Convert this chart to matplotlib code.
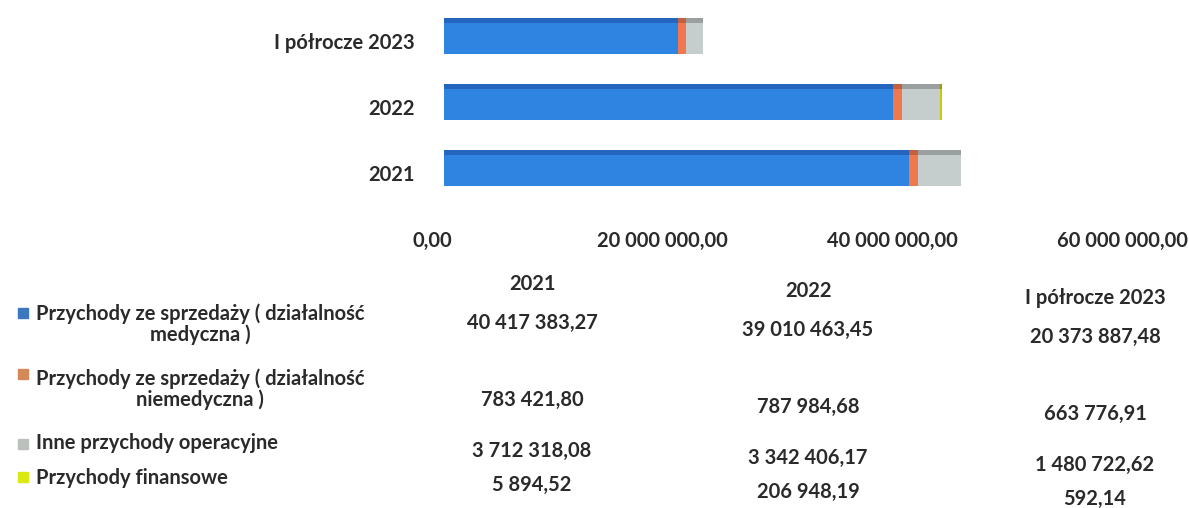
import matplotlib
matplotlib.use("Agg")
import matplotlib.pyplot as plt
import matplotlib.transforms as mtransforms
from matplotlib.ticker import FuncFormatter, MultipleLocator
from matplotlib.patches import Rectangle
import numpy as np

plt.rcParams["font.family"] = ["Lato", "DejaVu Sans"]

# Revenue data (PLN)
periods = ["2021", "2022", "I półrocze 2023"]
series_names = [
    "Przychody ze sprzedaży ( działalność\nmedyczna )",
    "Przychody ze sprzedaży ( działalność\nniemedyczna )",
    "Inne przychody operacyjne",
    "Przychody finansowe",
]
medical_sales = [40417383.27, 39010463.45, 20373887.48]
nonmedical_sales = [783421.80, 787984.68, 663776.91]
other_operating = [3712318.08, 3342406.17, 1480722.62]
financial = [5894.52, 206948.19, 592.14]

series_values = [medical_sales, nonmedical_sales, other_operating, financial]
face_colors = ["#2f84e2", "#f0784e", "#c5cdcd", "#c9c90a"]
top_colors = ["#2466bd", "#c4603f", "#9aa0a0", "#9a9a12"]
legend_colors = ["#3c78c0", "#d48a58", "#bcc0bc", "#d8ea10"]
text_color = "#2a2a2a"
fsize = 14.5
fweight = "bold"

W, H = 1189, 508
fig = plt.figure(figsize=(W / 100, H / 100), dpi=100)


def fx(px):
    return px / W


def fy(py):
    return 1 - py / H


def pl_number(v):
    return f"{v:,.2f}".replace(",", " ").replace(".", ",")


# Bar chart area
left_px, right_px, top_px, bottom_px = 444, 1134, 5, 205
ax = fig.add_axes([fx(left_px), fy(bottom_px), fx(right_px - left_px),
                   (bottom_px - top_px) / H])

y = np.arange(len(periods))
bar_h = 0.54
strip = 0.08
left = np.zeros(len(periods))
for vals, fc, tc in zip(series_values, face_colors, top_colors):
    vals = np.array(vals)
    ax.barh(y - strip / 2, vals, height=bar_h - strip, left=left,
            color=fc, edgecolor="none", zorder=2)
    ax.barh(y + bar_h / 2 - strip / 2, vals, height=strip, left=left,
            color=tc, edgecolor="none", zorder=2)
    left = left + vals

ax.set_xlim(0, 60000000)
ax.set_ylim(-0.56, 2.47)
ax.xaxis.set_major_locator(MultipleLocator(20000000))
ax.xaxis.set_major_formatter(FuncFormatter(lambda v, p: pl_number(v)))
ax.set_yticks(y)
ax.set_yticklabels(periods)
for s in ax.spines.values():
    s.set_visible(False)
ax.tick_params(axis="both", length=0, colors=text_color, labelsize=fsize)
ax.tick_params(axis="x", pad=19)
ax.tick_params(axis="y", pad=21)
for lab in ax.get_xticklabels() + ax.get_yticklabels():
    lab.set_fontweight(fweight)
shift = mtransforms.ScaledTranslation(-12 / 100, 0, fig.dpi_scale_trans)
for lab in ax.get_xticklabels():
    lab.set_transform(lab.get_transform() + shift)
ylab_shift = mtransforms.ScaledTranslation(0, -5 / 100, fig.dpi_scale_trans)
for lab in ax.get_yticklabels():
    lab.set_transform(lab.get_transform() + ylab_shift)

# Data table below the chart
col_x = [532, 808, 1095]
col_drift = [0, 7, 14]
header_y = 284
row_y = [323, 400, 451, 485]
label_y = [324, 389, 443, 478]
swatch_y = [313, 374, 444, 477]

for cx, d, name in zip(col_x, col_drift, periods):
    fig.text(fx(cx), fy(header_y + d), name, ha="center", va="center",
             fontsize=fsize, fontweight=fweight, color=text_color)

for r, (vals, name, lc) in enumerate(zip(series_values, series_names, legend_colors)):
    for cx, d, v in zip(col_x, col_drift, vals):
        fig.text(fx(cx), fy(row_y[r] + d), pl_number(v), ha="center",
                 va="center", fontsize=fsize, fontweight=fweight, color=text_color)
    fig.text(fx(36), fy(label_y[r]), name, ha="left", va="center",
             multialignment="center", fontsize=fsize, fontweight=fweight,
             color=text_color, linespacing=1.05)
    fig.patches.append(Rectangle((fx(18), fy(swatch_y[r] + 5)), fx(10), 10 / H,
                                 transform=fig.transFigure, color=lc))

fig.savefig("out.png", dpi=100, facecolor="white")
